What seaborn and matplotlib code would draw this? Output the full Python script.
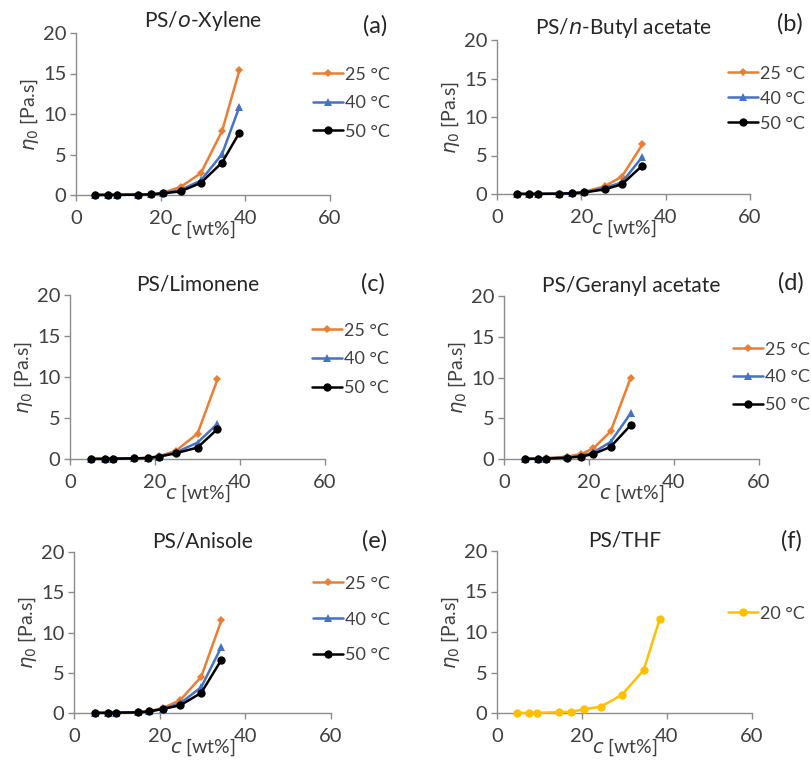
import numpy as np
import pandas as pd
import seaborn as sns
import matplotlib.pyplot as plt

# concentration (wt%) and zero-shear viscosity (Pa.s)
c_xylene = [4.6, 7.6, 9.6, 14.6, 17.6, 20.6, 24.7, 29.5, 34.5, 38.6]
xyl_25 = [0.02, 0.02, 0.03, 0.05, 0.1, 0.3, 1.0, 2.7, 7.9, 15.4]
xyl_40 = [0.01, 0.01, 0.02, 0.04, 0.08, 0.25, 0.6, 1.8, 5.05, 10.9]
xyl_50 = [0.01, 0.01, 0.02, 0.04, 0.07, 0.2, 0.45, 1.5, 4.0, 7.7]

c_butyl = [4.7, 7.7, 9.7, 14.8, 17.8, 20.7, 25.5, 29.6, 34.5]
but_25 = [0.02, 0.02, 0.03, 0.05, 0.12, 0.3, 1.0, 2.25, 6.45]
but_40 = [0.01, 0.01, 0.02, 0.04, 0.1, 0.2, 0.8, 1.5, 4.85]
but_50 = [0.01, 0.01, 0.02, 0.04, 0.1, 0.2, 0.6, 1.25, 3.7]

c_limonene = [4.9, 8.3, 10.0, 15.1, 18.3, 21.0, 24.9, 30.0, 34.7]
lim_25 = [0.02, 0.03, 0.05, 0.08, 0.15, 0.35, 1.0, 3.1, 9.7]
lim_40 = [0.01, 0.02, 0.04, 0.07, 0.12, 0.3, 0.8, 2.0, 4.3]
lim_50 = [0.01, 0.02, 0.04, 0.07, 0.12, 0.3, 0.7, 1.4, 3.65]

c_geranyl = [5.0, 7.9, 9.8, 14.9, 18.1, 21.0, 25.1, 29.8]
ger_25 = [0.03, 0.05, 0.1, 0.3, 0.6, 1.3, 3.4, 9.95]
ger_40 = [0.02, 0.03, 0.06, 0.2, 0.4, 0.8, 2.1, 5.6]
ger_50 = [0.02, 0.03, 0.05, 0.15, 0.3, 0.6, 1.5, 4.15]

c_anisole = [4.9, 8.0, 9.8, 14.9, 17.6, 20.7, 24.8, 29.7, 34.4]
ani_25 = [0.02, 0.03, 0.05, 0.1, 0.25, 0.6, 1.6, 4.5, 11.5]
ani_40 = [0.01, 0.02, 0.04, 0.08, 0.2, 0.5, 1.2, 3.2, 8.2]
ani_50 = [0.01, 0.02, 0.04, 0.08, 0.2, 0.5, 0.95, 2.5, 6.6]

c_thf = [4.7, 7.5, 9.4, 14.7, 17.4, 20.4, 24.5, 29.4, 34.5, 38.3]
thf_20 = [0.01, 0.02, 0.03, 0.1, 0.15, 0.45, 0.8, 2.25, 5.3, 11.6]

temp_labels = ['25 °C', '40 °C', '50 °C']
panel_titles = ['PS/$\\mathit{o}$-Xylene', 'PS/$\\mathit{n}$-Butyl acetate', 'PS/Limonene',
                'PS/Geranyl acetate', 'PS/Anisole', 'PS/THF']
panel_tags = ['(a)', '(b)', '(c)', '(d)', '(e)', '(f)']

colors = {'25 °C': '#ED7D31', '40 °C': '#4472C4', '50 °C': '#000000', '20 °C': '#FFC000'}
markers = {'25 °C': 'D', '40 °C': '^', '50 °C': 'o', '20 °C': 'o'}
msizes = {'25 °C': 4, '40 °C': 5.5, '50 °C': 6, '20 °C': 6}

sns.set_style('ticks')
plt.rcParams['font.family'] = ['Lato', 'DejaVu Sans']
plt.rcParams['mathtext.fontset'] = 'dejavusans'

W, H = 811, 760
fig = plt.figure(figsize=(W / 100, H / 100), dpi=100)


def add_panel(x0, x60, y20, y0):
    return fig.add_axes([x0 / W, 1 - y0 / H, (x60 - x0) / W, (y0 - y20) / H])


panels = [
    (c_xylene, [xyl_25, xyl_40, xyl_50], temp_labels),
    (c_butyl, [but_25, but_40, but_50], temp_labels),
    (c_limonene, [lim_25, lim_40, lim_50], temp_labels),
    (c_geranyl, [ger_25, ger_40, ger_50], temp_labels),
    (c_anisole, [ani_25, ani_40, ani_50], temp_labels),
    (c_thf, [thf_20], ['20 °C']),
]

# axes frames in pixels: x of 0, x of 60, y of 20, y of 0
frames = [(76, 330, 33, 195), (497, 750, 40, 194),
          (70, 325, 295, 459), (504, 759, 296, 459),
          (74, 331, 552, 713), (497, 752, 551, 713)]
# legend anchor (axes fraction) and row spacing
legend_pos = [(0.933, 0.793, 0.70), (0.913, 0.834, 0.50), (0.95, 0.832, 0.70),
              (0.898, 0.720, 0.65), (0.93, 0.853, 1.10), (0.906, 0.663, 0.5)]
tag_pos = [(375, 26), (790, 24), (373, 284), (791, 283), (375, 541), (791, 541)]

for i, (cx, series, labels) in enumerate(panels):
    ax = add_panel(*frames[i])
    rows = []
    for lab, vals in zip(labels, series):
        for x, y in zip(cx, vals):
            rows.append({'c': x, 'eta': y, 'T': lab})
    df = pd.DataFrame(rows)
    for lab in labels:
        sub = df[df['T'] == lab]
        sns.lineplot(data=sub, x='c', y='eta', ax=ax, color=colors[lab], marker=markers[lab],
                     markersize=msizes[lab], markeredgewidth=0, linewidth=1.8,
                     label=lab, clip_on=False, zorder=3)
    ax.set_xlim(0, 60)
    ax.set_ylim(0, 20)
    ax.set_xticks([0, 20, 40, 60])
    ax.set_yticks([0, 5, 10, 15, 20])
    sns.despine(ax=ax)
    for side in ['left', 'bottom']:
        ax.spines[side].set_color('#8c8c8c')
        ax.spines[side].set_linewidth(1.0)
    ax.tick_params(axis='both', colors='#8c8c8c', labelcolor='#404040', labelsize=14.5,
                   length=4, width=1.0, pad=3)
    ax.tick_params(axis='x', pad=7)
    ax.set_xlabel('$\\mathit{c}$ [wt%]', fontsize=14, color='#404040', labelpad=-6)
    ax.set_ylabel('$\\mathit{\\eta_0}$ [Pa.s]', fontsize=14, color='#404040', labelpad=1)
    ax.set_title(panel_titles[i], fontsize=15, color='#262626', pad=3)
    lx, ly, sp = legend_pos[i]
    ax.legend(loc='upper left', bbox_to_anchor=(lx, ly), frameon=False, fontsize=13,
              handlelength=1.65, handletextpad=0.1, borderpad=0, borderaxespad=0,
              labelspacing=sp, labelcolor='#404040')
    tx, ty = tag_pos[i]
    fig.text(tx / W, 1 - ty / H, panel_tags[i], fontsize=17, ha='center', va='center',
             color='#262626')

fig.savefig('out.png', dpi=100)
